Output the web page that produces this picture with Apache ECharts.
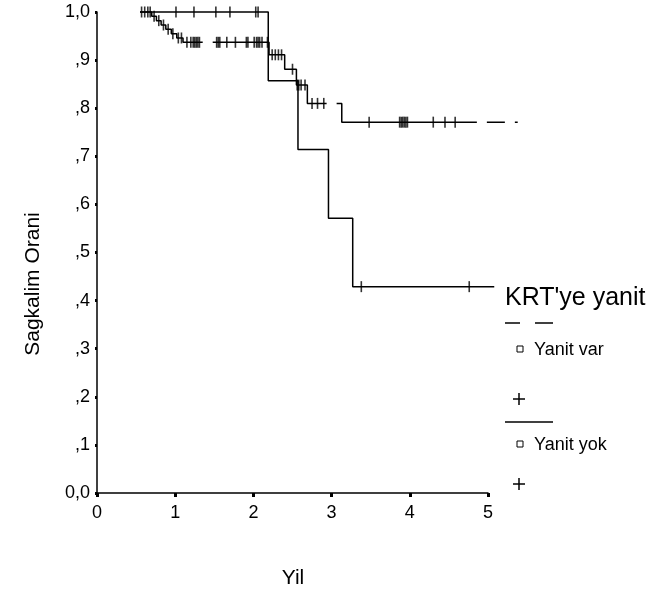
<!DOCTYPE html>
<html>
<head>
<meta charset="utf-8">
<script src="https://cdn.jsdelivr.net/npm/echarts@6/dist/echarts.min.js"></script>
<style>
  html, body { margin: 0; padding: 0; background: #fff; }
  #chart { width: 652px; height: 592px; }
</style>
</head>
<body>
<div id="chart"></div>
<script>
// Kaplan-Meier survival by response to KRT (years)
const xTickLabels = ['0', '1', '2', '3', '4', '5'];
const yTickLabels = ['0,0', ',1', ',2', ',3', ',4', ',5', ',6', ',7', ',8', ',9', '1,0'];

// "Yanit var" group: step times and survival after each step
const varTimes = [0.55, 0.70, 0.76, 0.82, 0.88, 0.95, 1.02, 1.10, 2.20, 2.40, 2.55, 2.69, 3.13, 5.38];
const varSurv  = [1.000, 0.991, 0.982, 0.973, 0.964, 0.955, 0.946, 0.937, 0.911, 0.881, 0.848, 0.810, 0.771, 0.771];
// censored observations
const varCensor = [0.65, 0.73, 0.79, 0.85, 0.91, 0.97, 1.04, 1.08, 1.15, 1.20, 1.23, 1.25, 1.27, 1.29, 1.31,
                   1.53, 1.55, 1.57, 1.66, 1.77, 1.91, 1.93, 2.01, 2.04, 2.06, 2.08, 2.11, 2.18,
                   2.24, 2.28, 2.32, 2.36, 2.50, 2.56, 2.58, 2.61, 2.66, 2.75, 2.82, 2.90,
                   3.48, 3.87, 3.89, 3.91, 3.93, 3.95, 3.97, 4.30, 4.45, 4.58];

// "Yanit yok" group
const yokTimes = [0.55, 2.19, 2.57, 2.96, 3.27, 5.08];
const yokSurv  = [1.000, 0.857, 0.714, 0.571, 0.429, 0.429];
const yokCensor = [0.57, 0.61, 0.68, 1.01, 1.24, 1.52, 1.70, 2.03, 2.06, 3.38, 4.76];

function survAt(times, surv, t) {
  let s = surv[0];
  for (let i = 0; i < times.length; i++) {
    if (times[i] <= t) s = surv[i];
  }
  return s;
}
const zip = (a, b) => a.map((v, i) => [v, b[i]]);

const FONT = 'Liberation Sans, Arial, sans-serif';
const chart = echarts.init(document.getElementById('chart'), null, { renderer: 'canvas' });

// plot area: the drawn axis spans 0..5 years, the curves may run a little past it
const PLOT_LEFT = 97, PLOT_TOP = 12, PLOT_W = 391, PLOT_H = 481;
const AXIS_MAX = 5, DATA_MAX = 5.4;

// legend geometry
const lgX = 505;
const plus = (cx, cy) => ([
  { type: 'line', shape: { x1: cx - 6, y1: cy, x2: cx + 6, y2: cy }, style: { stroke: '#000', lineWidth: 1.5 } },
  { type: 'line', shape: { x1: cx, y1: cy - 6, x2: cx, y2: cy + 6 }, style: { stroke: '#000', lineWidth: 1.5 } }
]);

chart.setOption({
  animation: false,
  backgroundColor: '#fff',
  grid: [
    { left: PLOT_LEFT, top: PLOT_TOP, width: PLOT_W, height: PLOT_H },
    { left: PLOT_LEFT, top: PLOT_TOP, width: PLOT_W * DATA_MAX / AXIS_MAX, height: PLOT_H }
  ],
  xAxis: [
    {
      gridIndex: 0, type: 'value', min: 0, max: AXIS_MAX, interval: 1,
      axisLine: { show: true, onZero: false, lineStyle: { color: '#000', width: 1.5 } },
      axisTick: { show: true, inside: false, length: 4, lineStyle: { color: '#000', width: 3 } },
      axisLabel: { color: '#000', fontFamily: FONT, fontSize: 18, margin: 11,
                   formatter: v => xTickLabels[Math.round(v)] },
      splitLine: { show: false }
    },
    { gridIndex: 1, type: 'value', min: 0, max: DATA_MAX, show: false }
  ],
  yAxis: [
    {
      gridIndex: 0, type: 'value', min: 0, max: 1, interval: 0.1,
      axisLine: { show: true, lineStyle: { color: '#000', width: 1.5 } },
      axisTick: { show: true, inside: false, length: 2, lineStyle: { color: '#000', width: 3 } },
      axisLabel: { color: '#000', fontFamily: FONT, fontSize: 18, margin: 7,
                   formatter: v => yTickLabels[Math.round(v * 10)] },
      splitLine: { show: false }
    },
    { gridIndex: 1, type: 'value', min: 0, max: 1, show: false }
  ],
  series: [
    {
      name: 'Yanit var', type: 'line', step: 'end', xAxisIndex: 1, yAxisIndex: 1,
      clip: false, symbol: 'none', silent: true,
      data: zip(varTimes, varSurv),
      lineStyle: { color: '#000', width: 1.5, type: [93, 10, 175, 10, 159, 10, 18, 10, 3, 40] }
    },
    {
      name: 'Yanit var +', type: 'scatter', xAxisIndex: 1, yAxisIndex: 1, clip: false, silent: true,
      symbol: 'rect', symbolSize: [1.6, 11], itemStyle: { color: '#000' },
      data: varCensor.map(t => [t, survAt(varTimes, varSurv, t)])
    },
    {
      name: 'Yanit yok', type: 'line', step: 'end', xAxisIndex: 1, yAxisIndex: 1,
      clip: false, symbol: 'none', silent: true,
      data: zip(yokTimes, yokSurv),
      lineStyle: { color: '#000', width: 1.5, type: 'solid' }
    },
    {
      name: 'Yanit yok +', type: 'scatter', xAxisIndex: 1, yAxisIndex: 1, clip: false, silent: true,
      symbol: 'rect', symbolSize: [1.6, 11], itemStyle: { color: '#000' },
      data: yokCensor.map(t => [t, survAt(yokTimes, yokSurv, t)])
    }
  ],
  graphic: [
    // axis titles
    { type: 'text', x: 33, y: 284, rotation: Math.PI / 2,
      style: { text: 'Sagkalim Orani', font: '21px ' + FONT, fill: '#000', align: 'center', verticalAlign: 'middle' } },
    { type: 'text', x: 293, y: 578,
      style: { text: 'Yil', font: '21px ' + FONT, fill: '#000', align: 'center', verticalAlign: 'middle' } },
    // legend
    { type: 'text', x: lgX, y: 298,
      style: { text: "KRT'ye yanit", font: '25px ' + FONT, fill: '#000', align: 'left', verticalAlign: 'middle' } },
    { type: 'line', shape: { x1: lgX, y1: 323, x2: lgX + 15, y2: 323 }, style: { stroke: '#000', lineWidth: 1.5 } },
    { type: 'line', shape: { x1: lgX + 30, y1: 323, x2: lgX + 48, y2: 323 }, style: { stroke: '#000', lineWidth: 1.5 } },
    { type: 'rect', shape: { x: 517, y: 346, width: 6, height: 6 }, style: { fill: '#fff', stroke: '#000', lineWidth: 1 } },
    { type: 'text', x: 534, y: 350,
      style: { text: 'Yanit var', font: '18px ' + FONT, fill: '#000', align: 'left', verticalAlign: 'middle' } },
    ...plus(519, 399),
    { type: 'line', shape: { x1: lgX, y1: 422, x2: lgX + 48, y2: 422 }, style: { stroke: '#000', lineWidth: 1.5 } },
    { type: 'rect', shape: { x: 517, y: 441, width: 6, height: 6 }, style: { fill: '#fff', stroke: '#000', lineWidth: 1 } },
    { type: 'text', x: 534, y: 445,
      style: { text: 'Yanit yok', font: '18px ' + FONT, fill: '#000', align: 'left', verticalAlign: 'middle' } },
    ...plus(519, 484)
  ]
});
</script>
</body>
</html>
